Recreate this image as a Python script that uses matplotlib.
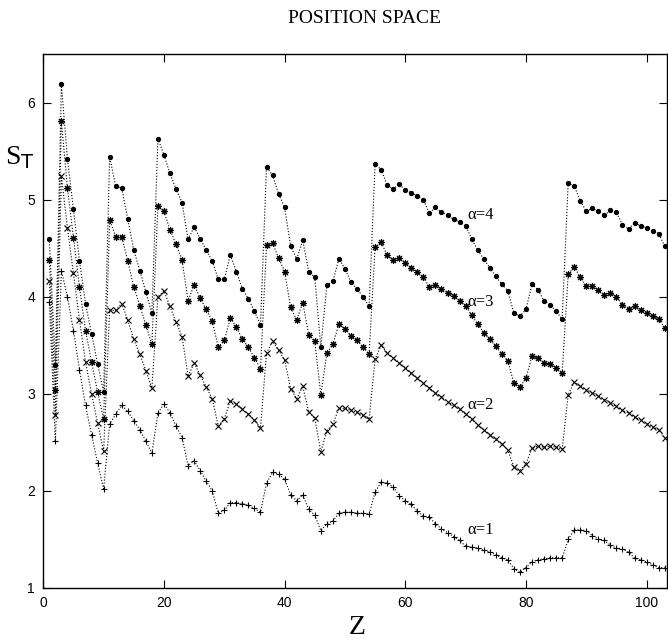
import numpy as np
import matplotlib
matplotlib.use("Agg")
import matplotlib.pyplot as plt

# Atomic number Z = 1..103
Z = np.arange(1, 104)

# Entropy values, one list per alpha
s_a1 = [3.95, 2.51, 4.27, 4.00, 3.65, 3.25, 2.88, 2.58, 2.29, 2.02,
        2.69, 2.79, 2.88, 2.82, 2.72, 2.63, 2.51, 2.39, 2.80, 2.90,
        2.80, 2.67, 2.55, 2.26, 2.31, 2.21, 2.10, 2.00, 1.77, 1.80,
        1.88, 1.88, 1.87, 1.85, 1.82, 1.78, 2.08, 2.19, 2.17, 2.12,
        1.96, 1.90, 1.96, 1.81, 1.75, 1.59, 1.66, 1.69, 1.77, 1.78,
        1.78, 1.77, 1.77, 1.76, 1.99, 2.09, 2.08, 2.04, 1.95, 1.90,
        1.86, 1.79, 1.74, 1.73, 1.66, 1.61, 1.57, 1.53, 1.49, 1.43,
        1.42, 1.41, 1.39, 1.37, 1.34, 1.31, 1.29, 1.20, 1.16, 1.21,
        1.27, 1.29, 1.30, 1.31, 1.31, 1.31, 1.50, 1.60, 1.60, 1.59,
        1.54, 1.50, 1.49, 1.44, 1.41, 1.40, 1.37, 1.31, 1.29, 1.27,
        1.24, 1.21, 1.21]

s_a2 = [4.16, 2.78, 5.24, 4.71, 4.24, 3.76, 3.33, 3.00, 2.70, 2.41,
        3.86, 3.86, 3.93, 3.76, 3.56, 3.41, 3.24, 3.06, 4.00, 4.06,
        3.90, 3.74, 3.59, 3.18, 3.32, 3.19, 3.07, 2.95, 2.67, 2.74,
        2.93, 2.90, 2.84, 2.79, 2.73, 2.65, 3.42, 3.54, 3.45, 3.35,
        3.05, 2.95, 3.08, 2.81, 2.75, 2.40, 2.62, 2.69, 2.85, 2.85,
        2.83, 2.81, 2.78, 2.74, 3.36, 3.50, 3.42, 3.37, 3.32, 3.27,
        3.21, 3.16, 3.11, 3.06, 3.01, 2.97, 2.92, 2.88, 2.84, 2.79,
        2.74, 2.68, 2.63, 2.58, 2.53, 2.48, 2.42, 2.25, 2.21, 2.28,
        2.44, 2.46, 2.45, 2.46, 2.45, 2.43, 2.99, 3.12, 3.08, 3.04,
        3.01, 2.98, 2.94, 2.91, 2.87, 2.83, 2.80, 2.76, 2.73, 2.69,
        2.66, 2.63, 2.55]

s_a3 = [4.38, 3.04, 5.81, 5.12, 4.61, 4.10, 3.65, 3.33, 3.02, 2.74,
        4.79, 4.62, 4.62, 4.37, 4.10, 3.91, 3.71, 3.51, 4.93, 4.88,
        4.69, 4.54, 4.38, 3.96, 4.12, 3.99, 3.87, 3.75, 3.48, 3.55,
        3.78, 3.69, 3.56, 3.48, 3.37, 3.26, 4.53, 4.55, 4.40, 4.26,
        3.89, 3.76, 3.94, 3.61, 3.54, 2.99, 3.42, 3.51, 3.72, 3.67,
        3.60, 3.55, 3.48, 3.41, 4.51, 4.56, 4.43, 4.38, 4.40, 4.35,
        4.30, 4.25, 4.20, 4.10, 4.12, 4.08, 4.04, 4.01, 3.96, 3.91,
        3.81, 3.72, 3.63, 3.56, 3.49, 3.41, 3.34, 3.11, 3.07, 3.16,
        3.39, 3.37, 3.32, 3.31, 3.27, 3.21, 4.23, 4.31, 4.20, 4.11,
        4.11, 4.07, 4.02, 4.04, 4.00, 3.92, 3.87, 3.90, 3.86, 3.83,
        3.80, 3.77, 3.68]

s_a4 = [4.60, 3.30, 6.19, 5.42, 4.90, 4.37, 3.93, 3.62, 3.31, 3.02,
        5.44, 5.14, 5.12, 4.80, 4.48, 4.27, 4.05, 3.83, 5.63, 5.46,
        5.27, 5.11, 4.97, 4.59, 4.72, 4.60, 4.48, 4.37, 4.18, 4.18,
        4.43, 4.26, 4.08, 3.98, 3.85, 3.71, 5.34, 5.25, 5.06, 4.92,
        4.52, 4.39, 4.58, 4.26, 4.20, 3.48, 4.12, 4.16, 4.39, 4.29,
        4.15, 4.08, 4.00, 3.90, 5.37, 5.31, 5.15, 5.11, 5.16, 5.10,
        5.07, 5.04, 5.00, 4.86, 4.92, 4.87, 4.84, 4.80, 4.77, 4.73,
        4.60, 4.48, 4.39, 4.30, 4.21, 4.13, 4.06, 3.83, 3.80, 3.87,
        4.13, 4.07, 3.96, 3.92, 3.85, 3.77, 5.17, 5.14, 4.99, 4.88,
        4.91, 4.88, 4.84, 4.89, 4.87, 4.74, 4.70, 4.76, 4.73, 4.71,
        4.68, 4.65, 4.52]

labels = ["α=1", "α=2", "α=3", "α=4"]
label_pos = [(70.3, 1.60), (70.3, 2.89), (70.3, 3.95), (70.3, 4.84)]

fig = plt.figure(figsize=(6.68, 6.44), dpi=100)
ax = fig.add_axes([0.0648, 0.087, 0.933, 0.829])

serif = ["Liberation Serif", "DejaVu Serif"]
sans = ["Liberation Sans Narrow", "Liberation Sans", "DejaVu Sans"]

# Plot the four curves
ax.plot(Z, s_a1, color="black", linestyle=":", linewidth=0.8,
        marker="+", markersize=5, markeredgewidth=0.8)
ax.plot(Z, s_a2, color="black", linestyle=":", linewidth=0.8,
        marker="x", markersize=4, markeredgewidth=0.8)
ax.plot(Z, s_a3, color="black", linestyle=":", linewidth=0.8,
        marker=(8, 2, 0), markersize=5, markeredgewidth=0.8)
ax.plot(Z, s_a4, color="black", linestyle=":", linewidth=0.8,
        marker="o", markersize=2.8)

for lab, (xp, yp) in zip(labels, label_pos):
    ax.text(xp, yp, lab, fontsize=12, family=serif, va="center", ha="left")

ax.set_xlim(0, 103.3)
ax.set_ylim(1, 6.5)
ax.set_xticks([0, 20, 40, 60, 80, 100])
ax.set_yticks([1, 2, 3, 4, 5, 6])
ax.tick_params(direction="in", length=6, width=0.8, top=True, right=True,
               labelsize=10, pad=6)
for lab in ax.get_xticklabels() + ax.get_yticklabels():
    lab.set_family(sans)
for sp in ax.spines.values():
    sp.set_linewidth(1.0)

fig.text(0.545, 0.972, "POSITION SPACE", fontsize=14, family=serif,
         ha="center", va="center")
fig.text(0.03, 0.755, "S$_\\mathrm{T}$", fontsize=20, family=serif,
         ha="center", va="center")
fig.text(0.535, 0.025, "Z", fontsize=20, family=serif,
         ha="center", va="center")

fig.savefig("out.png", dpi=100)
